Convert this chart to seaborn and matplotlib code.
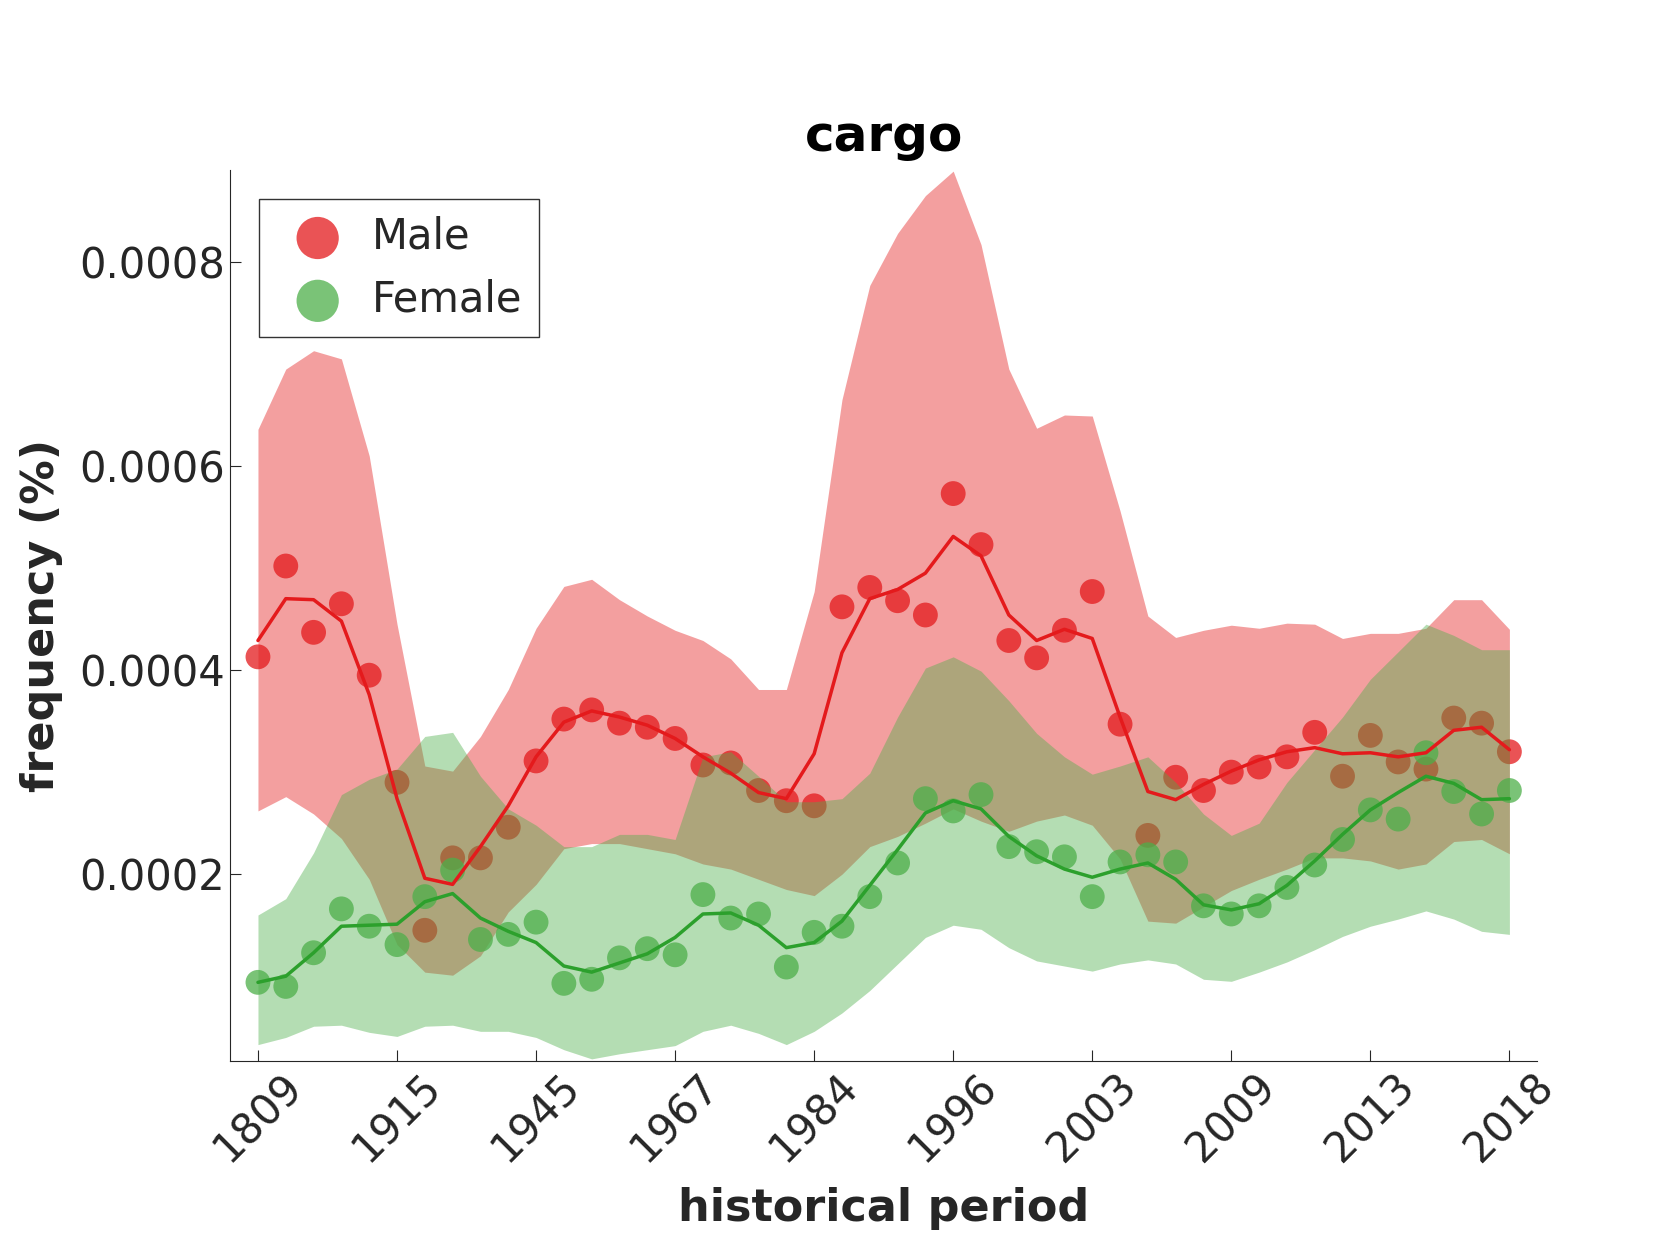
import numpy as np
import pandas as pd
import matplotlib.pyplot as plt
import seaborn as sns

# tick labels shown every 5th period
tick_labels = ["1809", "1915", "1945", "1967", "1984", "1996", "2003", "2009", "2013", "2018"]

# values in units of 1e-4 %
male_dots = [4.13, 5.02, 4.37, 4.65, 3.95, 2.90, 1.45, 2.16, 2.16, 2.46, 3.11, 3.52, 3.61, 3.48, 3.44, 3.33,
             3.07, 3.09, 2.82, 2.72, 2.67, 4.62, 4.81, 4.68, 4.54, 5.73, 5.23, 4.29, 4.12, 4.39, 4.77, 3.47,
             2.38, 2.95, 2.82, 3.00, 3.05, 3.15, 3.39, 2.96, 3.36, 3.10, 3.03, 3.53, 3.48, 3.20]
male_line = [4.29, 4.70, 4.69, 4.48, 3.76, 2.74, 1.96, 1.90, 2.27, 2.67, 3.15, 3.49, 3.60, 3.54, 3.46, 3.33,
             3.15, 2.99, 2.80, 2.74, 3.18, 4.17, 4.70, 4.79, 4.95, 5.31, 5.12, 4.54, 4.29, 4.40, 4.31, 3.54,
             2.81, 2.73, 2.88, 3.01, 3.12, 3.20, 3.24, 3.18, 3.19, 3.15, 3.19, 3.41, 3.44, 3.22]
male_upper = [6.36, 6.95, 7.13, 7.05, 6.10, 4.45, 3.06, 3.01, 3.35, 3.81, 4.41, 4.82, 4.89, 4.69, 4.53, 4.39,
              4.29, 4.11, 3.81, 3.81, 4.77, 6.65, 7.77, 8.28, 8.65, 8.89, 8.17, 6.95, 6.37, 6.50, 6.49, 5.56,
              4.53, 4.32, 4.39, 4.44, 4.41, 4.46, 4.45, 4.31, 4.36, 4.36, 4.41, 4.69, 4.69, 4.40]
male_lower = [2.62, 2.76, 2.59, 2.35, 1.95, 1.31, 1.04, 1.01, 1.20, 1.63, 1.90, 2.25, 2.30, 2.30, 2.25, 2.20,
              2.10, 2.05, 1.95, 1.85, 1.79, 2.00, 2.27, 2.37, 2.50, 2.64, 2.52, 2.42, 2.52, 2.58, 2.48, 2.15,
              1.54, 1.52, 1.68, 1.84, 1.95, 2.05, 2.16, 2.16, 2.13, 2.05, 2.10, 2.32, 2.34, 2.20]

female_dots = [0.94, 0.90, 1.23, 1.66, 1.49, 1.31, 1.78, 2.04, 1.36, 1.41, 1.53, 0.93, 0.97, 1.18, 1.27, 1.21,
               1.80, 1.57, 1.61, 1.09, 1.43, 1.49, 1.78, 2.11, 2.74, 2.62, 2.78, 2.27, 2.22, 2.17, 1.78, 2.12,
               2.19, 2.12, 1.69, 1.61, 1.69, 1.87, 2.09, 2.34, 2.63, 2.54, 3.19, 2.81, 2.59, 2.82]
female_line = [0.94, 1.00, 1.23, 1.49, 1.50, 1.51, 1.73, 1.81, 1.57, 1.44, 1.33, 1.10, 1.04, 1.13, 1.22, 1.38,
               1.61, 1.62, 1.50, 1.28, 1.33, 1.54, 1.89, 2.24, 2.60, 2.72, 2.64, 2.37, 2.18, 2.05, 1.97, 2.05,
               2.11, 1.95, 1.70, 1.65, 1.71, 1.89, 2.13, 2.39, 2.63, 2.80, 2.96, 2.89, 2.73, 2.74]
female_upper = [1.60, 1.76, 2.21, 2.78, 2.93, 3.03, 3.35, 3.39, 2.96, 2.64, 2.48, 2.27, 2.27, 2.39, 2.39, 2.34,
                3.15, 3.20, 2.96, 2.71, 2.71, 2.74, 2.99, 3.54, 4.02, 4.13, 3.99, 3.70, 3.38, 3.15, 2.98, 3.06,
                3.15, 2.90, 2.59, 2.38, 2.50, 2.90, 3.22, 3.54, 3.91, 4.18, 4.45, 4.34, 4.20, 4.20]
female_lower = [0.33, 0.40, 0.51, 0.52, 0.45, 0.41, 0.51, 0.52, 0.46, 0.46, 0.40, 0.28, 0.19, 0.24, 0.28, 0.32,
                0.46, 0.52, 0.44, 0.33, 0.46, 0.64, 0.86, 1.12, 1.38, 1.50, 1.46, 1.28, 1.15, 1.10, 1.05, 1.12,
                1.16, 1.12, 0.97, 0.95, 1.04, 1.14, 1.26, 1.39, 1.49, 1.56, 1.64, 1.56, 1.44, 1.41]

scale = 1e-4
x = np.arange(len(male_dots))

sns.set_style("ticks")
plt.rcParams['font.family'] = ['DejaVu Sans']

fig = plt.figure(figsize=(16.8, 12.6), dpi=100)
ax = fig.add_axes([0.137, 0.158, 0.778, 0.707])

groups = [
    ("Male", male_dots, male_line, male_upper, male_lower, "#e41a1c", "#e41a1c"),
    ("Female", female_dots, female_line, female_upper, female_lower, "#4daf4a", "#2ca02c"),
]
for name, dots, line, up, lo, fill_c, line_c in groups:
    df = pd.DataFrame({"x": x, "dots": np.array(dots) * scale, "line": np.array(line) * scale})
    ax.fill_between(x, np.array(lo) * scale, np.array(up) * scale, color=fill_c, alpha=0.42, lw=0)
    sns.lineplot(data=df, x="x", y="line", color=line_c, lw=2.5, ax=ax)
    sns.scatterplot(data=df, x="x", y="dots", color=fill_c, s=320, alpha=0.75, edgecolor="none",
                    ax=ax, label=name)

ax.set_xlim(-1, 46)
ax.set_ylim(0.000017, 0.00089)
ax.set_xticks(x[::5])
ax.set_xticklabels(tick_labels, rotation=45, fontsize=30)
ax.set_yticks([0.0002, 0.0004, 0.0006, 0.0008])
ax.set_yticklabels(["0.0002", "0.0004", "0.0006", "0.0008"], fontsize=30)
ax.tick_params(direction="in", length=8, colors="#262626")
ax.set_xlabel("historical period", fontsize=32, fontweight="bold", color="#262626", labelpad=12)
ax.set_ylabel("frequency (%)", fontsize=32, fontweight="bold", color="#262626", labelpad=12)
ax.set_title("cargo", fontsize=36, fontweight="bold", pad=14, color="black")
sns.despine(ax=ax)

leg = ax.legend(loc="upper left", fontsize=30, frameon=True, fancybox=False, markerscale=1.7,
                handletextpad=0.3, borderaxespad=0.7)
leg.get_frame().set_edgecolor("black")
leg.get_frame().set_linewidth(1.0)

fig.savefig("out.png", dpi=100)
